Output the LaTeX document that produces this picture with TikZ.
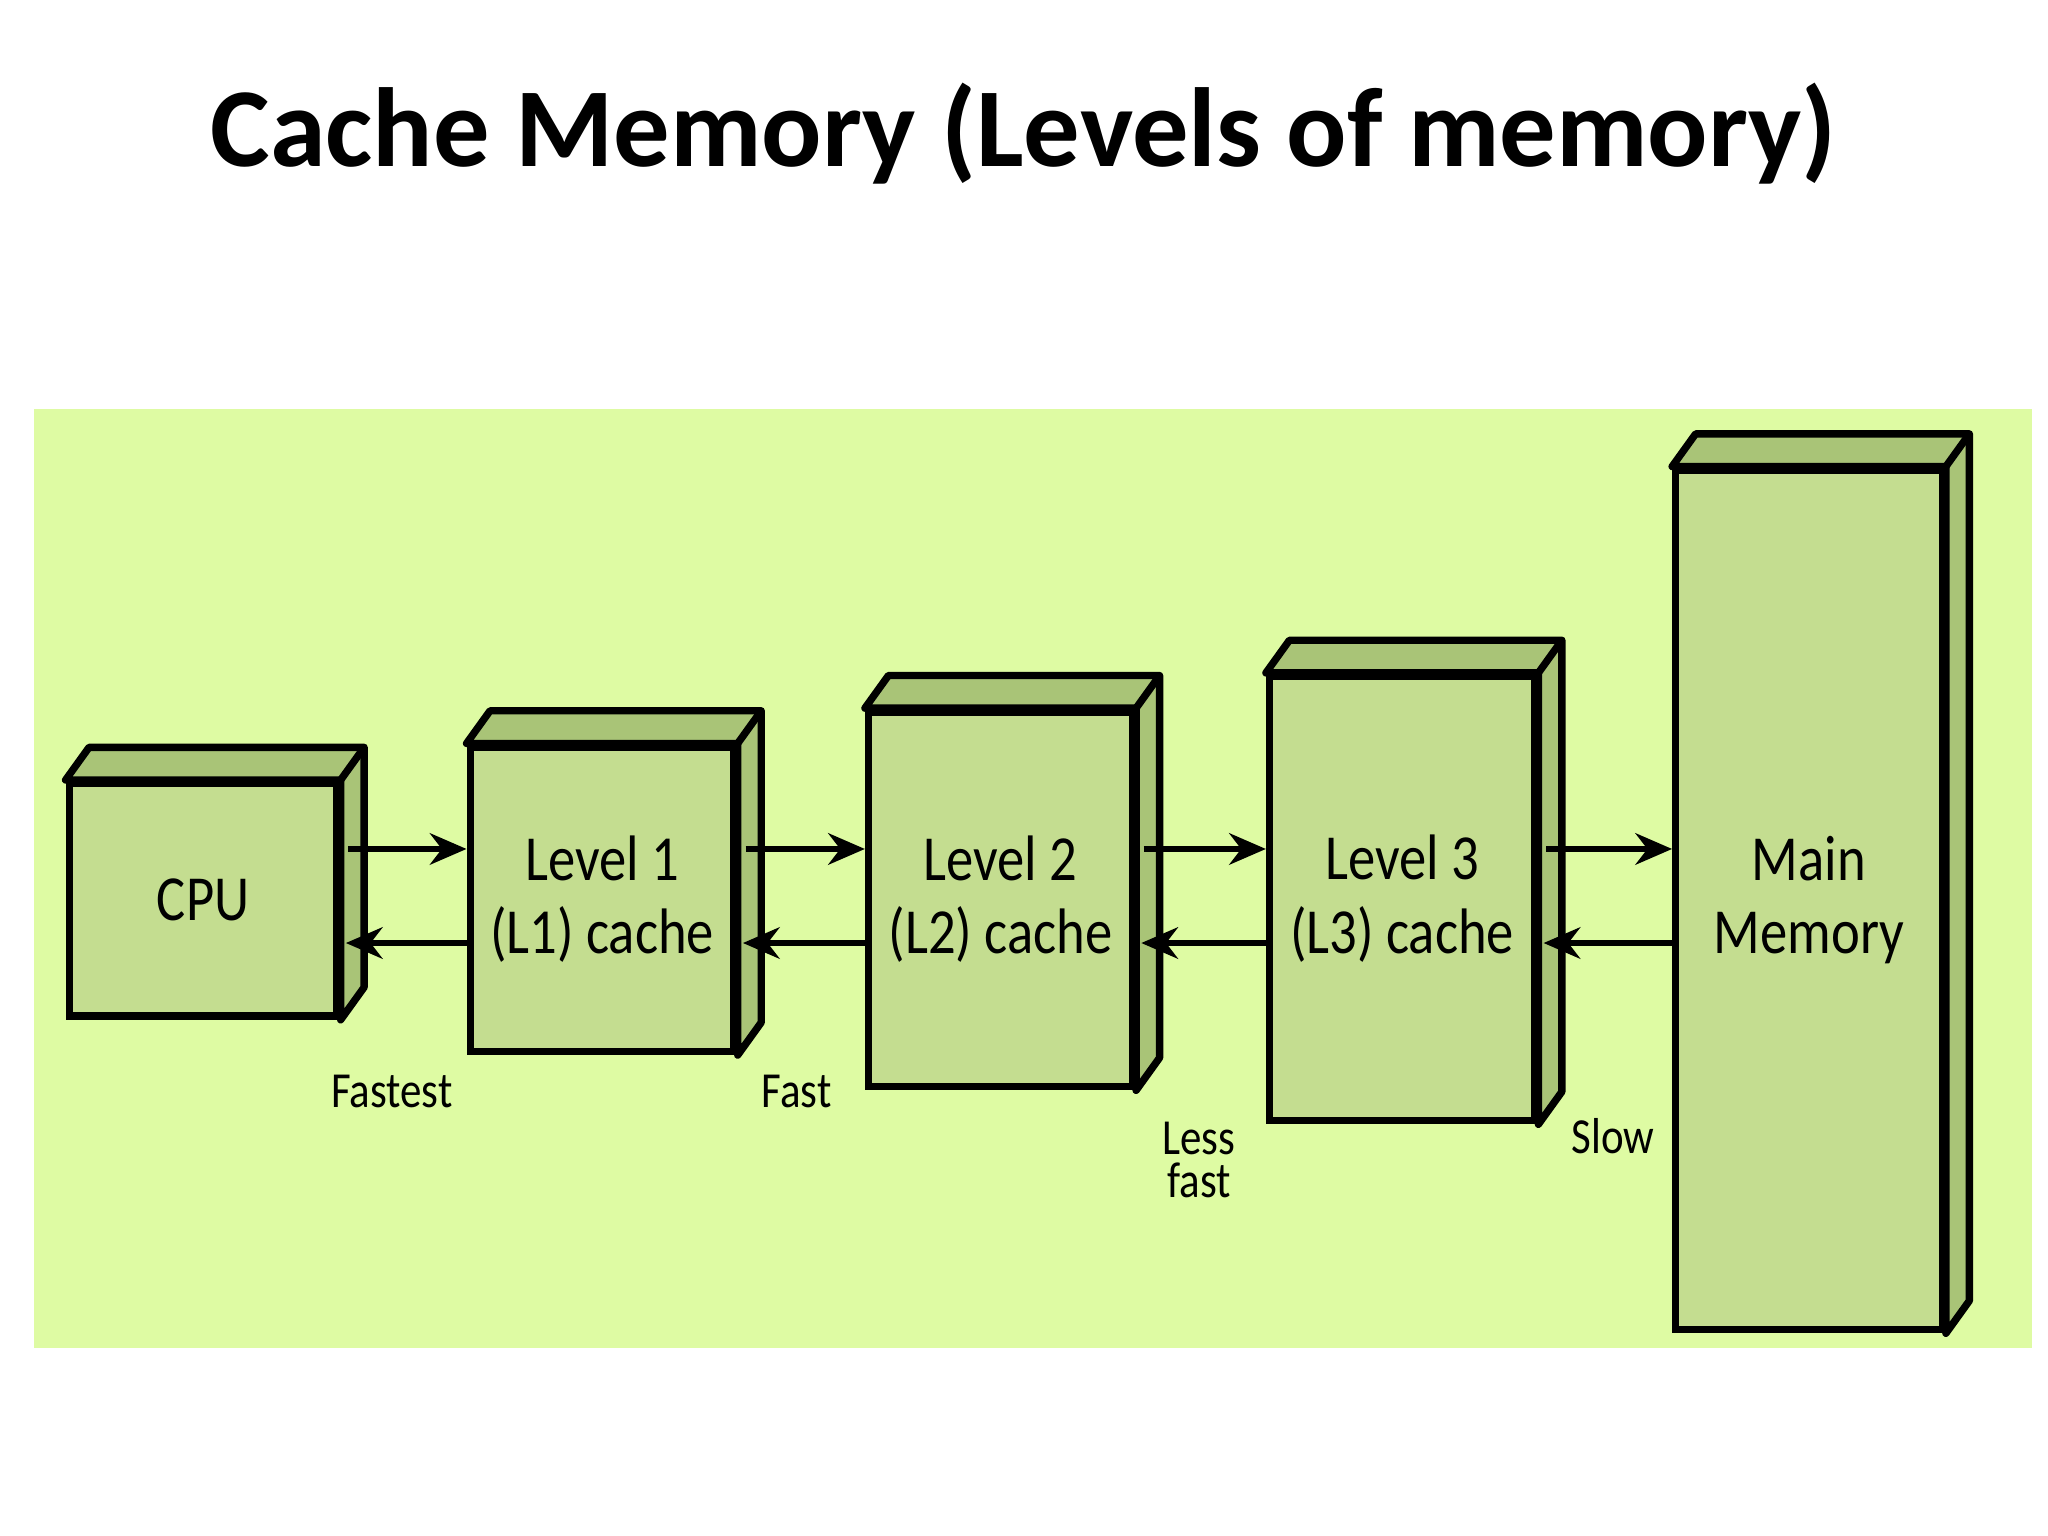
\documentclass[tikz,border=0pt]{standalone}
\usepackage{fontspec}
\setmainfont{Carlito}
\usetikzlibrary{arrows.meta,calc}
\definecolor{bggreen}{HTML}{DEFBA3}
\definecolor{boxgreen}{HTML}{C4DD90}
\definecolor{sidegreen}{HTML}{A9C477}
\tikzset{
  box/.style={draw, line width=1.6pt, fill=boxgreen, inner sep=0pt,
    align=center, font=\fontsize{14}{16}\selectfont\addfontfeature{FakeStretch=0.85}},
  face/.style={draw, line width=1.6pt, fill=sidegreen, line join=round},
  arr/.style={line width=1.5pt, -{Stealth[length=2.8mm,width=2.4mm]}},
  lbl/.style={font=\fontsize{11}{9.5}\selectfont\addfontfeature{FakeStretch=0.85}, align=center}
}
\begin{document}
\begin{tikzpicture}
\useasboundingbox (0,0) rectangle (15.68,-11.76);
\fill[bggreen] (0.26,-3.13) rectangle (15.56,-10.32);
\node[font=\fontsize{24.5}{28}\selectfont\bfseries] (title) at (7.84,-1.02) {Cache Memory (Levels of memory)};
% boxes
\node[box, minimum width=2.05cm, minimum height=1.78cm] (cpu) at (1.555,-6.89) {CPU};
\node[box, minimum width=2.02cm, minimum height=2.33cm] (l1) at (4.61,-6.885) {Level 1\\(L1) cache};
\node[box, minimum width=2.02cm, minimum height=2.87cm] (l2) at (7.66,-6.885) {Level 2\\(L2) cache};
\node[box, minimum width=2.03cm, minimum height=3.40cm] (l3) at (10.735,-6.88) {Level 3\\(L3) cache};
\node[box, minimum width=2.04cm, minimum height=6.58cm] (mm) at (13.85,-6.89) {Main\\Memory};
\foreach \b in {cpu,l1,l2,l3,mm}{
  \draw[face] (\b.north west) -- ++(.18,.25) -- ($(\b.north east)+(.18,.25)$)
    -- ($(\b.south east)+(.18,.25)$) -- (\b.south east) -- (\b.north east) -- cycle;
  \draw[line width=1.6pt] (\b.north east) -- ++(.18,.25);
}
% arrows
\coordinate (up) at (0,-6.5);
\coordinate (dn) at (0,-7.22);
\foreach \a/\b in {cpu/l1,l1/l2,l2/l3,l3/mm}{
  \draw[arr] ($(\a.east |- up)+(.06,0)$) -- (\b.west |- up);
  \draw[arr] (\b.west |- dn) -- ($(\a.east |- dn)+(.04,0)$);
}
% speed labels
\node[lbl] (fastest) at (3.0,-8.36) {Fastest};
\node[lbl] (fast) at (6.1,-8.36) {Fast};
\node[lbl] (less) at (9.18,-8.88) {Less\\fast};
\node[lbl] (slow) at (12.35,-8.7) {Slow};
\end{tikzpicture}
\end{document}
